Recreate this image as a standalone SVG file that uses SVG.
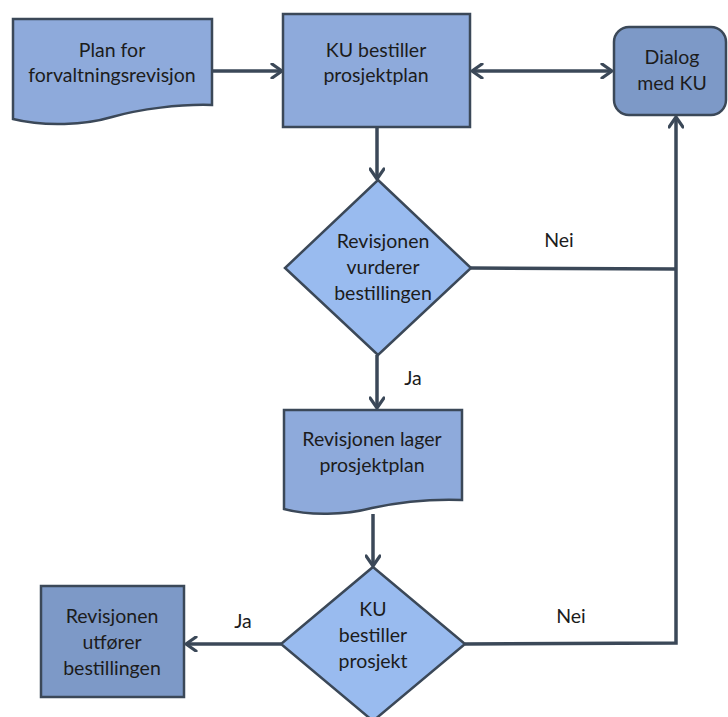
<svg xmlns="http://www.w3.org/2000/svg" width="728" height="717" viewBox="0 0 728 717">
  <style>
    .node { stroke: #3b4858; stroke-width: 2.5; stroke-linejoin: miter; }
    .mid { fill: #8eaadb; }
    .light { fill: #99bbef; }
    .dark { fill: #7d99c7; }
    .lbl { font-family: Lato, "Open Sans", sans-serif; font-size: 19.5px; fill: #1c1c1c; text-anchor: middle; }
    .edge { fill: none; stroke: #3b4858; stroke-width: 3.5; }
  </style>
  <defs>
    <marker id="arrow" markerUnits="userSpaceOnUse" viewBox="0 0 14 16" markerWidth="14" markerHeight="16" refX="12" refY="8" orient="auto-start-reverse">
      <path d="M2,1 L12,8 L2,15" fill="none" stroke="#3b4858" stroke-width="3.2" stroke-linecap="round" stroke-linejoin="round"/>
    </marker>
  </defs>

  <rect width="728" height="717" fill="#ffffff"/>

  <!-- connectors -->
  <g id="connectors">
    <line class="edge" x1="212" y1="71" x2="282" y2="71" marker-end="url(#arrow)"/>
    <line class="edge" x1="472" y1="71" x2="612" y2="71" marker-start="url(#arrow)" marker-end="url(#arrow)"/>
    <line class="edge" x1="377" y1="127" x2="377" y2="179" marker-end="url(#arrow)"/>
    <polyline class="edge" points="471,268 676,269"/>
    <line class="edge" x1="377" y1="355" x2="377" y2="408" marker-end="url(#arrow)"/>
    <line class="edge" x1="373" y1="514" x2="373" y2="566" marker-end="url(#arrow)"/>
    <polyline class="edge" points="465,644 676,643 676,117" marker-end="url(#arrow)"/>
    <line class="edge" x1="281" y1="644" x2="186" y2="644" marker-end="url(#arrow)"/>
    <text class="lbl" x="559" y="247">Nei</text>
    <text class="lbl" x="413" y="385">Ja</text>
    <text class="lbl" x="571" y="623">Nei</text>
    <text class="lbl" x="243" y="628">Ja</text>
  </g>

  <!-- Plan for forvaltningsrevisjon -->
  <g id="plan">
    <path class="node mid" d="M13,19 H212 V105 C180,104 140,109 112,117 C85,125 45,127 13,119 Z"/>
    <text class="lbl" x="112" y="57">Plan for</text>
    <text class="lbl" x="112" y="82">forvaltningsrevisjon</text>
  </g>

  <!-- KU bestiller prosjektplan -->
  <g id="ku-bestiller-plan">
    <rect class="node mid" x="283" y="14" width="187" height="113"/>
    <text class="lbl" x="376" y="57">KU bestiller</text>
    <text class="lbl" x="376" y="82">prosjektplan</text>
  </g>

  <!-- Dialog med KU -->
  <g id="dialog">
    <rect class="node dark" x="614" y="27" width="112" height="88" rx="15" ry="15"/>
    <text class="lbl" x="672" y="64">Dialog</text>
    <text class="lbl" x="672" y="90">med KU</text>
  </g>

  <!-- Revisjonen vurderer bestillingen -->
  <g id="vurderer">
    <polygon class="node light" points="378,180 471,268 378,355 285,268"/>
    <text class="lbl" x="383" y="248">Revisjonen</text>
    <text class="lbl" x="383" y="274">vurderer</text>
    <text class="lbl" x="383" y="300">bestillingen</text>
  </g>

  <!-- Revisjonen lager prosjektplan -->
  <g id="lager-plan">
    <path class="node mid" d="M284,410 H462 V500 C435,499 400,502 372,508 C345,515 310,516 284,509 Z"/>
    <text class="lbl" x="372" y="446">Revisjonen lager</text>
    <text class="lbl" x="372" y="472">prosjektplan</text>
  </g>

  <!-- KU bestiller prosjekt -->
  <g id="ku-bestiller-prosjekt">
    <polygon class="node light" points="373,567 465,644 373,721 281,644"/>
    <text class="lbl" x="373" y="616">KU</text>
    <text class="lbl" x="373" y="642">bestiller</text>
    <text class="lbl" x="373" y="668">prosjekt</text>
  </g>

  <!-- Revisjonen utfører bestillingen -->
  <g id="utforer">
    <rect class="node dark" x="41" y="586" width="143" height="111"/>
    <text class="lbl" x="112" y="623">Revisjonen</text>
    <text class="lbl" x="112" y="649">utfører</text>
    <text class="lbl" x="112" y="675">bestillingen</text>
  </g>
</svg>
